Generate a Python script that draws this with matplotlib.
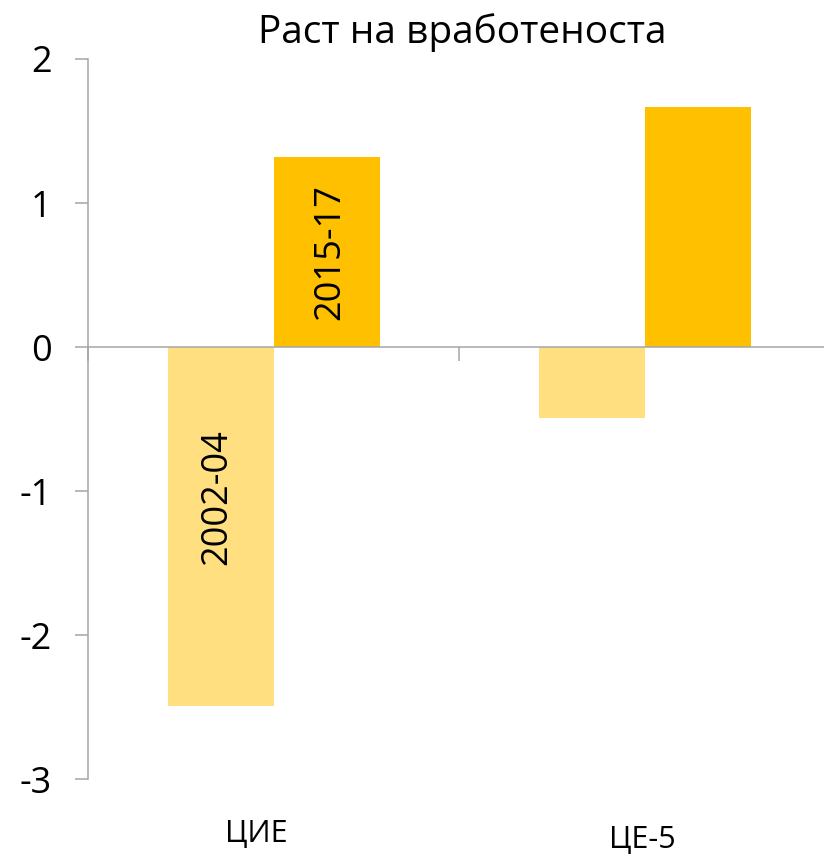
import matplotlib
matplotlib.use("Agg")
import matplotlib.pyplot as plt
import matplotlib.transforms as mtransforms
import numpy as np

plt.rcParams['font.family'] = ['Open Sans', 'DejaVu Sans']

categories = ["ЦИЕ", "ЦЕ-5"]
series_names = ["2002-04", "2015-17"]
values_2002_04 = [-2.49, -0.49]
values_2015_17 = [1.32, 1.67]
colors = ["#FFDF80", "#FFC000"]
yticks = [-3, -2, -1, 0, 1, 2]
title = "Раст на вработеноста"

W, H = 824, 856
fig = plt.figure(figsize=(W / 100, H / 100), dpi=100)
ax = fig.add_axes([88.3 / W, (H - 779.3) / H, 742.2 / W, (779.3 - 59) / H])

x = np.arange(len(categories))
w = 0.286
ax.bar(x - w / 2, values_2002_04, width=w, color=colors[0], zorder=2)
ax.bar(x + w / 2, values_2015_17, width=w, color=colors[1], zorder=2)

ax.set_xlim(-0.5, len(categories) - 0.5)
ax.set_ylim(-3, 2)

gray = "#A6A6A6"
for s in ["top", "right"]:
    ax.spines[s].set_visible(False)
ax.spines["left"].set_color(gray)
ax.spines["left"].set_linewidth(1.1)
ax.spines["bottom"].set_position(("data", 0))
ax.spines["bottom"].set_color(gray)
ax.spines["bottom"].set_linewidth(1.1)
ax.spines["bottom"].set_zorder(3)

ax.set_yticks(yticks)
ax.set_yticklabels([str(t) for t in yticks])
ax.tick_params(axis="y", direction="out", length=9.5, width=1.1, color=gray,
               labelsize=26, pad=17)
ax.set_xticks(np.arange(-0.5, len(categories), 1.0))
ax.set_xticklabels([])
ax.tick_params(axis="x", direction="out", length=10, width=1.1, color=gray)

# category labels (x from data, y in figure pixels)
label_dx = [-18, -3]
label_y = [834, 840]
for i, cat in enumerate(categories):
    tr = mtransforms.blended_transform_factory(ax.transData, fig.transFigure) + \
        mtransforms.ScaledTranslation(label_dx[i] / 100, 0, fig.dpi_scale_trans)
    ax.text(i, 1 - label_y[i] / H, cat, transform=tr, ha="center", va="center",
            fontsize=22, clip_on=False)

# series labels in first category bars
ax.text(x[0] - w / 2 - 0.01, -1.04, series_names[0], rotation=90, ha="center",
        va="center", fontsize=26, zorder=4)
ax.text(x[0] + w / 2 + 0.01, 0.66, series_names[1], rotation=90, ha="center",
        va="center", fontsize=26, zorder=4)

fig.text(462 / W, 1 - 33 / H, title, ha="center", va="center", fontsize=28)

fig.savefig("out.png", dpi=100)
